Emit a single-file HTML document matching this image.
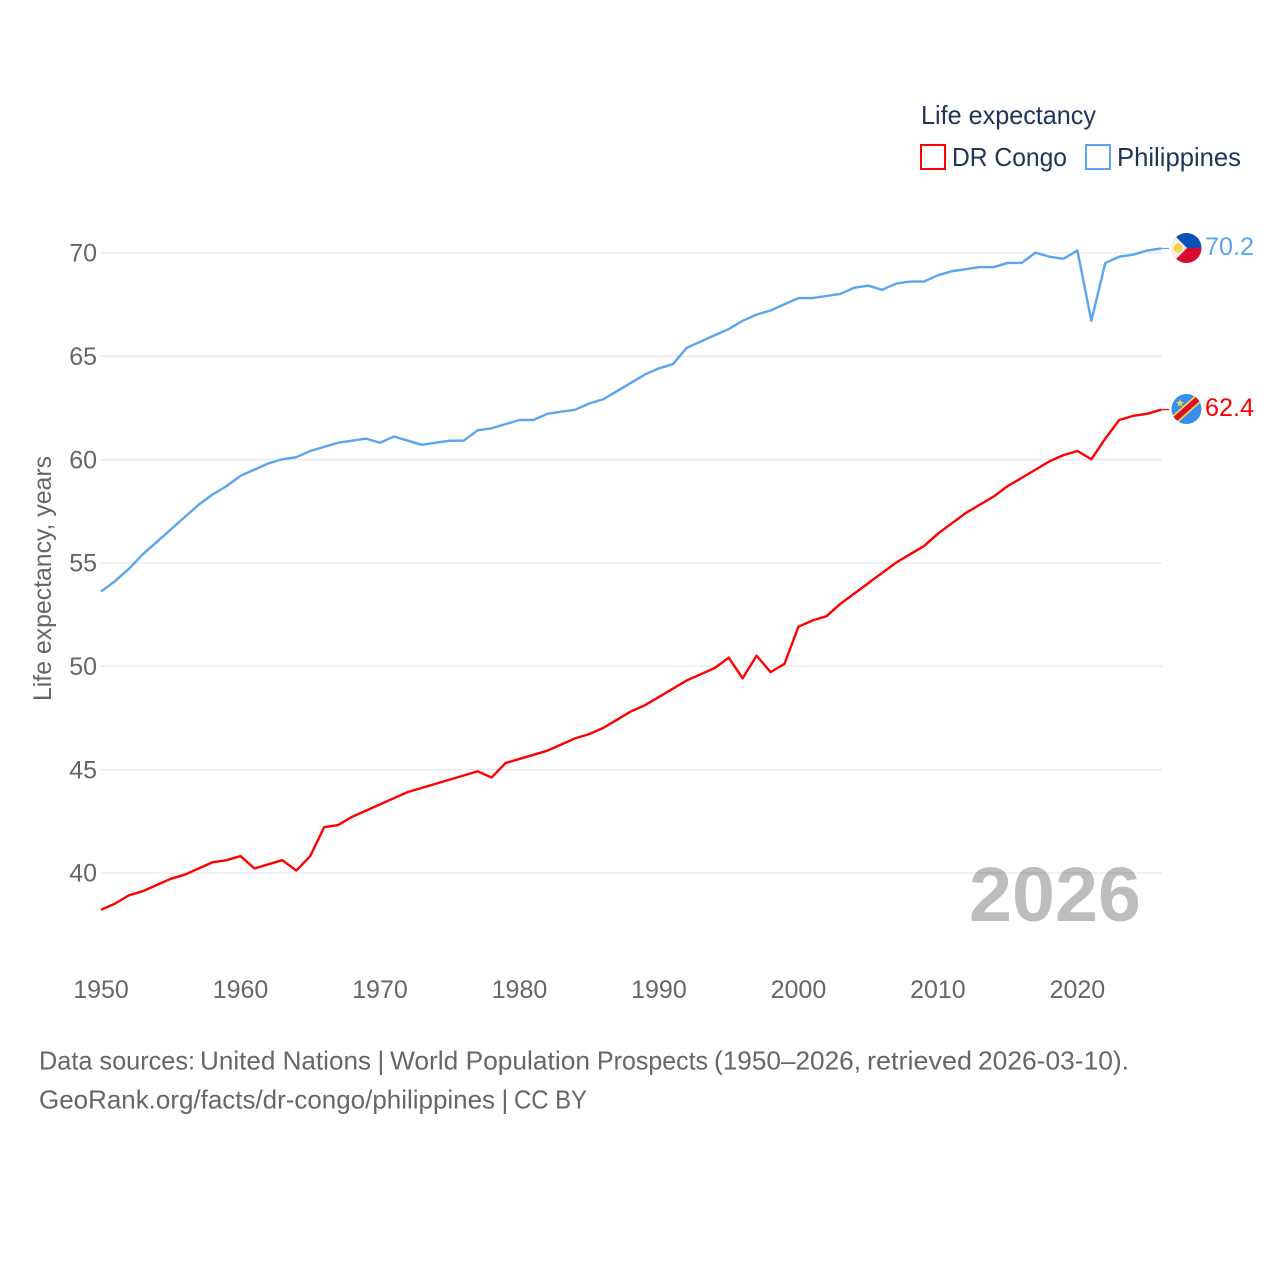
<!DOCTYPE html>
<html lang="en">
<head>
<meta charset="utf-8">
<title>Life expectancy: DR Congo vs Philippines</title>
<style>
html,body{margin:0;padding:0;background:#fff;}
svg{display:block;}
text{font-family:"Liberation Sans",sans-serif;}
</style>
</head>
<body>
<svg id="chart" xmlns="http://www.w3.org/2000/svg" width="1280" height="1280" viewBox="0 0 1280 1280">
  <defs>
    <clipPath id="clip-ph"><circle cx="1186.5" cy="248" r="15"/></clipPath>
    <clipPath id="clip-cd"><circle cx="1186.5" cy="409" r="15"/></clipPath>
  </defs>
  <g id="grid"></g>
  <g id="y-ticks"></g>
  <g id="x-ticks"></g>
  <text transform="translate(51,701) rotate(-90)" font-size="25" fill="#666" textLength="245" lengthAdjust="spacingAndGlyphs">Life expectancy, years</text>
  <text x="969" y="921" font-size="77" font-weight="bold" fill="#000" fill-opacity="0.26" textLength="172" lengthAdjust="spacingAndGlyphs">2026</text>
  <g id="series"></g>

  <g>
    <text x="921" y="124" font-size="26" fill="#1d3557" textLength="175" lengthAdjust="spacingAndGlyphs">Life expectancy</text>
    <rect x="921" y="145" width="24" height="24" fill="#fff" stroke="#ff0000" stroke-width="2"/>
    <text x="952" y="166" font-size="26" fill="#1d3557" textLength="115" lengthAdjust="spacingAndGlyphs">DR Congo</text>
    <rect x="1086" y="145" width="24" height="24" fill="#fff" stroke="#5ba4ee" stroke-width="2"/>
    <text x="1117" y="166" font-size="26" fill="#1d3557" textLength="124" lengthAdjust="spacingAndGlyphs">Philippines</text>
  </g>

  <g clip-path="url(#clip-ph)">
    <rect x="1171" y="233" width="31" height="15" fill="#0b50b5"/>
    <rect x="1171" y="248" width="31" height="15" fill="#d8082f"/>
    <polygon points="1167,228 1187,248 1167,268" fill="#f3f1ea"/>
    <circle cx="1178" cy="248" r="4.5" fill="#fbd044"/>
  </g>
  <g clip-path="url(#clip-cd)">
    <rect x="1171" y="394" width="31" height="30" fill="#3a8df0"/>
    <line x1="1168.5" y1="425" x2="1204.5" y2="393" stroke="#f7d63c" stroke-width="9"/>
    <line x1="1168.5" y1="425" x2="1204.5" y2="393" stroke="#d2102f" stroke-width="5.5"/>
    <polygon points="1180,399 1181,401.8 1184,402 1181.7,403.8 1182.5,406.6 1180,405 1177.5,406.6 1178.3,403.8 1176,402 1179,401.8" fill="#f7d63c"/>
  </g>
  <text x="1205" y="255" font-size="25" fill="#5ba4ee" textLength="49" lengthAdjust="spacingAndGlyphs">70.2</text>
  <text x="1205" y="416" font-size="25" fill="#ff0000" textLength="49" lengthAdjust="spacingAndGlyphs">62.4</text>

  <text y="1069.5" font-size="26" fill="#666"><tspan x="39" textLength="156" lengthAdjust="spacingAndGlyphs">Data sources:</tspan> <tspan x="200" textLength="171" lengthAdjust="spacingAndGlyphs">United Nations</tspan> <tspan x="377.5">|</tspan> <tspan x="390" textLength="200" lengthAdjust="spacingAndGlyphs">World Population</tspan> <tspan x="597" textLength="111" lengthAdjust="spacingAndGlyphs">Prospects</tspan> <tspan x="714" textLength="147" lengthAdjust="spacingAndGlyphs">(1950–2026,</tspan> <tspan x="867" textLength="105" lengthAdjust="spacingAndGlyphs">retrieved</tspan> <tspan x="978" textLength="151" lengthAdjust="spacingAndGlyphs">2026-03-10).</tspan></text>
  <text y="1108.5" font-size="26" fill="#666"><tspan x="39" textLength="456" lengthAdjust="spacingAndGlyphs">GeoRank.org/facts/dr-congo/philippines</tspan> <tspan x="501.5">|</tspan> <tspan x="514" textLength="73" lengthAdjust="spacingAndGlyphs">CC BY</tspan></text>
</svg>
<script>
const years = [1950,1951,1952,1953,1954,1955,1956,1957,1958,1959,1960,1961,1962,1963,1964,1965,1966,1967,1968,1969,1970,1971,1972,1973,1974,1975,1976,1977,1978,1979,1980,1981,1982,1983,1984,1985,1986,1987,1988,1989,1990,1991,1992,1993,1994,1995,1996,1997,1998,1999,2000,2001,2002,2003,2004,2005,2006,2007,2008,2009,2010,2011,2012,2013,2014,2015,2016,2017,2018,2019,2020,2021,2022,2023,2024,2025,2026];
const drCongo = [38.2,38.5,38.9,39.1,39.4,39.7,39.9,40.2,40.5,40.6,40.8,40.2,40.4,40.6,40.1,40.8,42.2,42.3,42.7,43.0,43.3,43.6,43.9,44.1,44.3,44.5,44.7,44.9,44.6,45.3,45.5,45.7,45.9,46.2,46.5,46.7,47.0,47.4,47.8,48.1,48.5,48.9,49.3,49.6,49.9,50.4,49.4,50.5,49.7,50.1,51.9,52.2,52.4,53.0,53.5,54.0,54.5,55.0,55.4,55.8,56.4,56.9,57.4,57.8,58.2,58.7,59.1,59.5,59.9,60.2,60.4,60.0,61.0,61.9,62.1,62.2,62.4];
const philippines = [53.6,54.1,54.7,55.4,56.0,56.6,57.2,57.8,58.3,58.7,59.2,59.5,59.8,60.0,60.1,60.4,60.6,60.8,60.9,61.0,60.8,61.1,60.9,60.7,60.8,60.9,60.9,61.4,61.5,61.7,61.9,61.9,62.2,62.3,62.4,62.7,62.9,63.3,63.7,64.1,64.4,64.6,65.4,65.7,66.0,66.3,66.7,67.0,67.2,67.5,67.8,67.8,67.9,68.0,68.3,68.4,68.2,68.5,68.6,68.6,68.9,69.1,69.2,69.3,69.3,69.5,69.5,70.0,69.8,69.7,70.1,66.7,69.5,69.8,69.9,70.1,70.2];
const yTickValues = [40,45,50,55,60,65,70];
const xTickValues = [1950,1960,1970,1980,1990,2000,2010,2020];

const NS = 'http://www.w3.org/2000/svg';
function xScale(year) { return 101 + (year - 1950) * (1077.4 - 101) / 70; }
function yScale(value) { return 872.6 - (value - 40) * (872.6 - 252.6) / 30; }
function make(tag, attrs) {
  const el = document.createElementNS(NS, tag);
  for (const k in attrs) el.setAttribute(k, attrs[k]);
  return el;
}

const gridGroup = document.getElementById('grid');
const yGroup = document.getElementById('y-ticks');
yTickValues.forEach(function (v) {
  const line = make('line', {x1: 101, x2: 1162, y1: yScale(v) + 0.4, y2: yScale(v) + 0.4, stroke: '#e9e9e9', 'stroke-width': 1.3});
  
  
  gridGroup.appendChild(line);
  const label = make('text', {x: 97, y: yScale(v) + 9, 'font-size': 25, fill: '#666', 'text-anchor': 'end'});
  
  
  label.textContent = v;
  yGroup.appendChild(label);
});

const xGroup = document.getElementById('x-ticks');
xTickValues.forEach(function (y) {
  const label = make('text', {x: xScale(y), y: 998, 'font-size': 25, fill: '#666', 'text-anchor': 'middle'});
  
  
  label.textContent = y;
  xGroup.appendChild(label);
});

function linePath(values) {
  return values.map(function (v, i) {
    return (i ? 'L' : 'M') + xScale(years[i]).toFixed(2) + ' ' + yScale(v).toFixed(2);
  }).join(' ');
}
function leaderPath(values) {
  const last = values[values.length - 1];
  const endX = xScale(years[years.length - 1]);
  return 'M' + endX.toFixed(2) + ' ' + yScale(last).toFixed(2) + ' L' + (endX + 8).toFixed(2) + ' ' + yScale(last).toFixed(2);
}

const seriesGroup = document.getElementById('series');

const congoLine = make('path', {d: linePath(drCongo), fill: 'none', stroke: '#ff0000', 'stroke-width': 2.4, 'stroke-linejoin': 'round'});


seriesGroup.appendChild(congoLine);

const congoLeader = make('path', {d: leaderPath(drCongo), fill: 'none', stroke: '#ff0000', 'stroke-width': 1.2});


seriesGroup.appendChild(congoLeader);

const phLine = make('path', {d: linePath(philippines), fill: 'none', stroke: '#5ba4ee', 'stroke-width': 2.4, 'stroke-linejoin': 'round'});


seriesGroup.appendChild(phLine);

const phLeader = make('path', {d: leaderPath(philippines), fill: 'none', stroke: '#5ba4ee', 'stroke-width': 1.2});


seriesGroup.appendChild(phLeader);
</script>
</body>
</html>
